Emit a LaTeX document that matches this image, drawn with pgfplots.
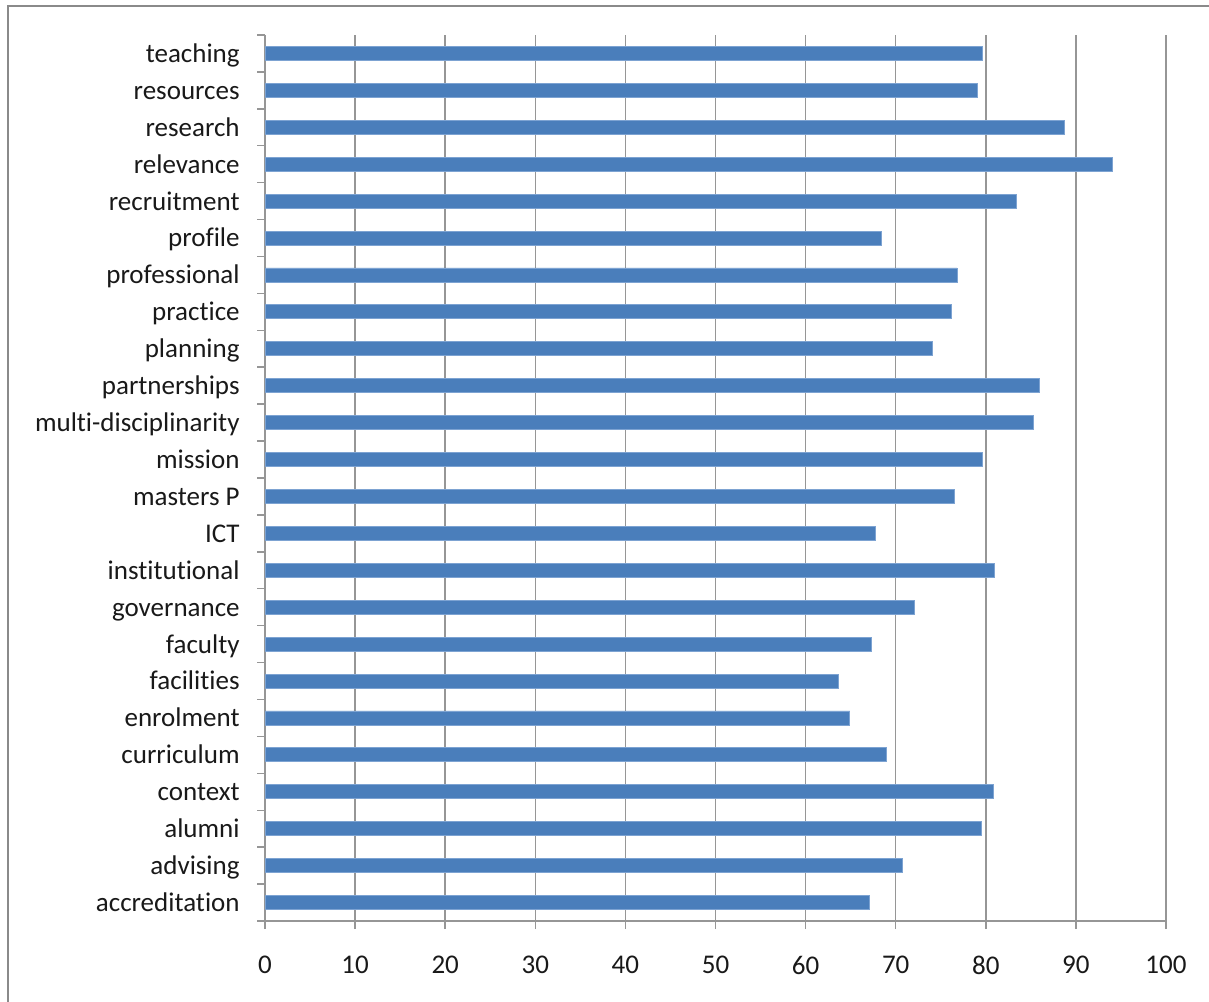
\documentclass[border=0pt]{standalone}
\usepackage{fontspec}
\setmainfont{Carlito}[Ligatures={NoCommon}]
\usepackage{pgfplots}
\pgfplotsset{compat=1.18}
\definecolor{barblue}{RGB}{74,126,187}
\definecolor{baredge}{RGB}{125,163,210}
\definecolor{gridgray}{RGB}{150,150,150}
\definecolor{framegray}{RGB}{138,138,138}
\begin{document}
\begin{tikzpicture}
\useasboundingbox (0,0) rectangle (604.5pt,500.5pt);
\draw[framegray, line width=1pt] (4pt,-5pt) -- (4pt,497.5pt) -- (610pt,497.5pt);
\begin{axis}[
  at={(132.5pt,40pt)}, anchor=south west,
  scale only axis,
  width=450.5pt, height=443pt,
  xmin=0, xmax=100,
  ymin=-0.5, ymax=23.5,
  xtick={0,10,...,100},
  ytick={0,...,23},
  yticklabels={accreditation,advising,alumni,context,curriculum,enrolment,facilities,faculty,governance,institutional,ICT,masters P,mission,multi-disciplinarity,partnerships\hspace{3pt},planning,practice,professional,profile,recruitment,relevance,research,resources,teaching\hspace{3pt}},
  minor ytick={-0.5,0.5,...,23.5},
  axis x line*=bottom, axis y line*=left,
  axis line style={gridgray, line width=0.75pt},
  tick align=outside,
  major tick length=4pt, minor tick length=4pt,
  major x tick style={gridgray, line width=0.75pt},
  major y tick style={draw=none},
  minor y tick style={gridgray, line width=0.75pt},
  xmajorgrids,
  major grid style={gridgray, line width=0.75pt},
  /pgf/number format/assume math mode=true,
  ticklabel style={font=\fontsize{13.5}{16}\selectfont, text=black!90},
  xticklabel style={inner sep=0pt, anchor=north, yshift=-13.5pt},
  yticklabel style={inner sep=0pt, anchor=east, xshift=-8.5pt, yshift=-1.2pt, text height=9.5pt, text depth=3pt},
  xbar, bar width=7pt,
  clip=false,
]
\addplot[fill=barblue, draw=baredge, line width=0.4pt] coordinates {
(67.1,0) (70.7,1) (79.5,2) (80.8,3) (69.0,4) (64.9,5) (63.6,6) (67.3,7) (72.1,8) (80.9,9) (67.7,10) (76.5,11) (79.6,12) (85.3,13) (86.0,14) (74.1,15) (76.2,16) (76.8,17) (68.4,18) (83.4,19) (94.0,20) (88.7,21) (79.1,22) (79.6,23)
};
\end{axis}
\end{tikzpicture}
\end{document}
